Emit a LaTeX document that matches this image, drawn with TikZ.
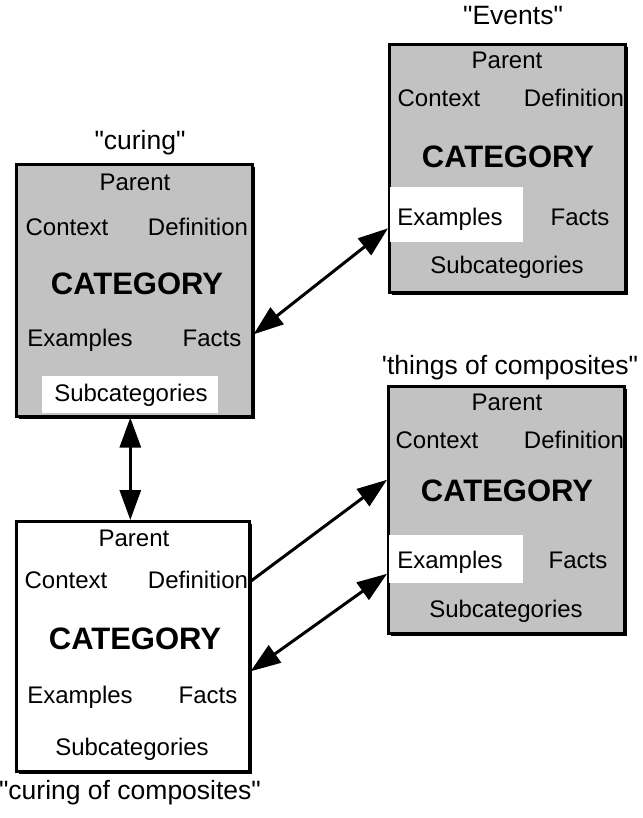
\documentclass[tikz,border=0pt]{standalone}
\usepackage{fontspec}
\setmainfont{Liberation Sans}[Ligatures=TeXOff]
\usetikzlibrary{arrows.meta,shadows}
\definecolor{shade}{gray}{0.76}
\tikzset{
  catbox/.style={draw=black, line width=2.6pt, rectangle, anchor=north west, inner sep=0pt,
     drop shadow={shadow xshift=3pt, shadow yshift=-3pt, fill=black, opacity=1}},
  shaded/.style={catbox, fill=shade},
  plain/.style={catbox, fill=white},
  hole/.style={fill=white, draw=none, inner sep=0pt, anchor=north west, rectangle},
  txt/.style={inner sep=0pt, text height=17pt, text depth=0pt, font=\fontsize{24}{28}\selectfont},
  cat/.style={inner sep=0pt, text height=22pt, text depth=0pt, font=\fontsize{31}{36}\selectfont\bfseries},
  lab/.style={inner sep=0pt, text height=19pt, text depth=0pt, font=\fontsize{26.5}{30}\selectfont},
  link/.style={line width=3pt, >={Triangle[length=30pt,width=21pt]}},
}
\begin{document}
\begin{tikzpicture}[x=1pt,y=-1pt]
\useasboundingbox (0,0) rectangle (642,818);
% boxes
\node[shaded, minimum width=236pt, minimum height=252pt] (c1) at (15,163) {};
\node[shaded, minimum width=236pt, minimum height=248pt] (ev) at (388,43) {};
\node[shaded, minimum width=236pt, minimum height=247pt] (th) at (387,385) {};
\node[plain, minimum width=233pt, minimum height=250pt] (c4) at (15,520) {};
% white holes
\node[hole, minimum width=176pt, minimum height=37pt] (c1h) at (42,376) {};
\node[hole, minimum width=133pt, minimum height=55pt] (evh) at (389.3,187) {};
\node[hole, minimum width=134pt, minimum height=48pt] (thh) at (388.3,535) {};
% labels
\node[lab] (l1) at (140,140) {"curing"};
\node[lab] (l2) at (513,15) {"Events"};
\node[lab] (l3) at (510,365) {'things of composites"};
\node[lab] (l4) at (130,790) {"curing of composites"};
% box 1
\node[txt] (c1p) at (135,182) {Parent};
\node[txt] (c1c) at (67,227) {Context};
\node[txt] (c1d) at (198,227) {Definition};
\node[cat] (c1k) at (137,283) {CATEGORY};
\node[txt] (c1e) at (80,338) {Examples};
\node[txt] (c1f) at (212,338) {Facts};
\node[txt] (c1s) at (131,393) {Subcategories};
% events
\node[txt] (evp) at (507,60) {Parent};
\node[txt] (evc) at (439,98) {Context};
\node[txt] (evd) at (574,98) {Definition};
\node[cat] (evk) at (508,157) {CATEGORY};
\node[txt] (eve) at (450,217) {Examples};
\node[txt] (evf) at (580,217) {Facts};
\node[txt] (evs) at (507,265) {Subcategories};
% things
\node[txt] (thp) at (507,402) {Parent};
\node[txt] (thc) at (437,440) {Context};
\node[txt] (thd) at (574,440) {Definition};
\node[cat] (thk) at (507,490) {CATEGORY};
\node[txt] (the) at (450,560) {Examples};
\node[txt] (thf) at (578,560) {Facts};
\node[txt] (ths) at (506,609) {Subcategories};
% box 4
\node[txt] (c4p) at (134,538) {Parent};
\node[txt] (c4c) at (66,580) {Context};
\node[txt] (c4d) at (198,580) {Definition};
\node[cat] (c4k) at (135,638) {CATEGORY};
\node[txt] (c4e) at (80,695) {Examples};
\node[txt] (c4f) at (208,695) {Facts};
\node[txt] (c4s) at (132,747) {Subcategories};
% connectors
\draw[link, <->] ([yshift=-44pt]c1.east) -- ([yshift=-60pt]ev.west);
\draw[link, <->] ([xshift=-4pt]c1.south) -- ([xshift=-4pt]c1.south |- c4.north);
\draw[link, ->] ([yshift=65pt]c4.east) -- ([yshift=30pt]th.west);
\draw[link, <->] ([yshift=-25pt]c4.east) -- ([yshift=-64pt]th.west);
\end{tikzpicture}
\end{document}
